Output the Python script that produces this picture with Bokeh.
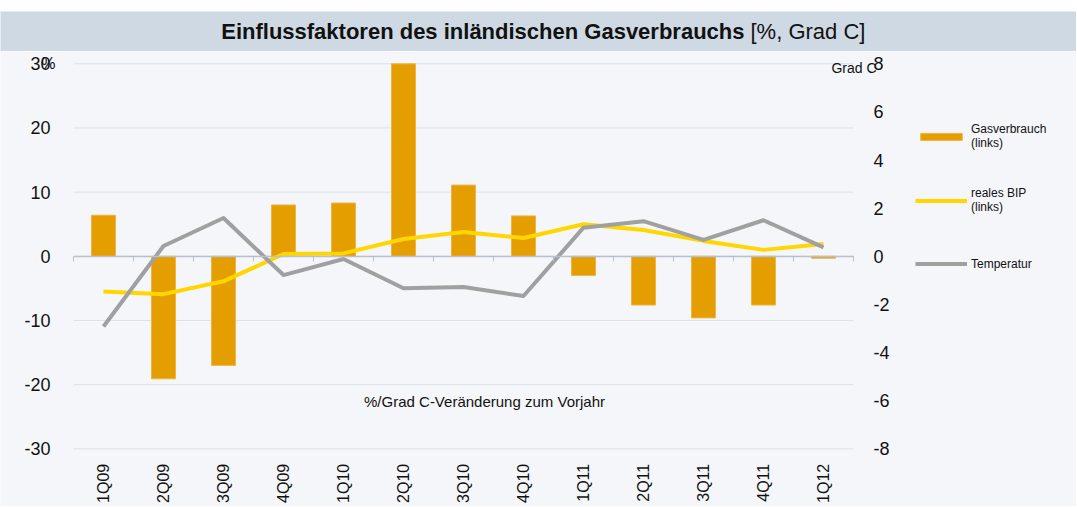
import math
from bokeh.plotting import figure
from bokeh.models import (Range1d, LinearAxis, FixedTicker, Label, Legend,
                          LegendItem, ColumnDataSource)
from bokeh.layouts import column
from bokeh.embed import file_html
from bokeh.resources import INLINE

# ---------------- data ----------------
quarters = ["1Q09", "2Q09", "3Q09", "4Q09", "1Q10", "2Q10", "3Q10",
            "4Q10", "1Q11", "2Q11", "3Q11", "4Q11", "1Q12"]
gasverbrauch = [6.4, -19.1, -17.0, 8.0, 8.3, 30.0, 11.1, 6.3, -3.0, -7.6, -9.6, -7.6, -0.3]
reales_bip = [-5.5, -5.9, -3.9, 0.35, 0.45, 2.7, 3.8, 2.85, 5.0, 4.1, 2.4, 1.0, 1.9]
temperatur = [-2.92, 0.43, 1.59, -0.78, -0.11, -1.33, -1.28, -1.65, 1.19, 1.46, 0.68, 1.5, 0.37]
left_ticks = [-30, -20, -10, 0, 10, 20, 30]
right_ticks = [-8, -6, -4, -2, 0, 2, 4, 6, 8]

FONT = "Liberation Sans"
BG = "#F5F6FA"
BAND = "#CFD9E4"
ORANGE = "#E59E00"
YELLOW = "#FFD600"
GREY = "#A0A0A0"
AXIS_GREY = "#B9BFCB"
GRID = "#DCE0E7"
TXT = "#111111"

n = len(quarters)
centers = [i + 0.5 for i in range(n)]
bounds = list(range(n + 1))
src = ColumnDataSource(dict(x=centers, q=quarters, gas=gasverbrauch, bip=reales_bip, temp=temperatur))
grid_src = ColumnDataSource(dict(x0=[0] * len(left_ticks), x1=[n] * len(left_ticks), y=left_ticks))

# ---------------- layout constants (pixels) ----------------
W = 1076
H_TITLE = 51
H_MAIN = 455
PLOT_L, PLOT_R = 73, 853        # data area inside the main canvas
PLOT_T, PLOT_B = 12.3, 397.3

lmin, lmax = left_ticks[0], left_ticks[-1]
rmin, rmax = right_ticks[0], right_ticks[-1]
pxx = (PLOT_R - PLOT_L) / n
pyl = (PLOT_B - PLOT_T) / (lmax - lmin)
pyr = (PLOT_B - PLOT_T) / (rmax - rmin)
x_range = Range1d(-PLOT_L / pxx, n + (W - PLOT_R) / pxx)
y_range = Range1d(lmin - (H_MAIN - PLOT_B) / pyl, lmax + PLOT_T / pyl)
t_range = Range1d(rmin - (H_MAIN - PLOT_B) / pyr, rmax + PLOT_T / pyr)

# ---------------- title band ----------------
t = figure(width=W, height=H_TITLE, x_range=Range1d(0, W), y_range=Range1d(0, 40),
           toolbar_location=None, output_backend="svg",
           x_axis_location=None, y_axis_location=None,
           min_border_left=0, min_border_right=0, min_border_bottom=0, min_border_top=11,
           background_fill_color=BAND, border_fill_color="white", outline_line_color=None)
t.frame_align = False
t.grid.visible = False
t.add_layout(Label(x=744, y=20, text="Einflussfaktoren des inländischen Gasverbrauchs",
                   text_font=FONT, text_font_size="22px", text_font_style="bold",
                   text_align="right", text_baseline="middle", text_color=TXT))
t.add_layout(Label(x=750, y=20, text="[%, Grad C]",
                   text_font=FONT, text_font_size="22px", text_font_style="normal",
                   text_align="left", text_baseline="middle", text_color=TXT))

# ---------------- main chart ----------------
p = figure(width=W, height=H_MAIN, x_range=x_range, y_range=y_range,
           toolbar_location=None, output_backend="svg",
           x_axis_location=None, y_axis_location=None,
           min_border_left=0, min_border_right=0, min_border_top=0, min_border_bottom=0,
           background_fill_color=BG, border_fill_color=BG, outline_line_color=None)
p.frame_align = False
p.extra_y_ranges = {"temp": t_range}
p.grid.visible = False

# horizontal gridlines at the left-axis ticks, limited to the plot area
p.segment(x0="x0", y0="y", x1="x1", y1="y", source=grid_src,
          line_color=GRID, line_width=1, level="underlay")


def style_axis(ax, size, standoff):
    ax.axis_line_color = None
    ax.major_tick_line_color = None
    ax.minor_tick_line_color = None
    ax.major_label_standoff = standoff
    ax.major_label_text_font = FONT
    ax.major_label_text_font_size = size
    ax.major_label_text_color = TXT


xa = LinearAxis(fixed_location=lmin, ticker=FixedTicker(ticks=centers))
xa.major_label_overrides = {c: q for c, q in zip(centers, quarters)}
xa.major_label_orientation = math.pi / 2
style_axis(xa, "16px", 9)
p.add_layout(xa, "below")

ya = LinearAxis(fixed_location=0, ticker=FixedTicker(ticks=left_ticks))
ya.major_label_overrides = {v: str(v) for v in left_ticks}
style_axis(ya, "18px", 17)
p.add_layout(ya, "left")

ra = LinearAxis(fixed_location=n, y_range_name="temp", ticker=FixedTicker(ticks=right_ticks))
ra.major_label_overrides = {v: str(v) for v in right_ticks}
style_axis(ra, "18px", 14)
p.add_layout(ra, "right")

bars = p.vbar(x="x", top="gas", bottom=0, width=0.4, source=src,
              fill_color=ORANGE, line_color="#EDB548", line_width=1)

# category axis drawn at the zero line (ticks between quarters)
za = LinearAxis(fixed_location=0, ticker=FixedTicker(ticks=bounds), bounds=(0, n))
za.major_label_overrides = {b: "" for b in bounds}
za.axis_line_color = AXIS_GREY
za.axis_line_width = 1.5
za.major_tick_line_color = AXIS_GREY
za.major_tick_out = 5
za.major_tick_in = 0
za.minor_tick_line_color = None
p.add_layout(za, "below")

bip_r = p.line(x="x", y="bip", source=src, line_color=YELLOW, line_width=4, line_join="round")
temp_r = p.line(x="x", y="temp", source=src, y_range_name="temp",
                line_color=GREY, line_width=4, line_join="round")

p.add_layout(Label(x=-0.42, y=lmax, text="%", text_font=FONT, text_font_size="16px",
                   text_align="center", text_baseline="middle", text_color=TXT))
p.add_layout(Label(x=12.633, y=29.42, text="Grad C", text_font=FONT, text_font_size="14px",
                   text_align="left", text_baseline="middle", text_color=TXT))
p.add_layout(Label(x=6.85, y=-22.7, text="%/Grad C-Veränderung zum Vorjahr",
                   text_font=FONT, text_font_size="15px",
                   text_align="center", text_baseline="middle", text_color=TXT))

legend = Legend(items=[
    LegendItem(label="Gasverbrauch\n(links)", renderers=[bars]),
    LegendItem(label="reales BIP\n(links)", renderers=[bip_r]),
    LegendItem(label="Temperatur", renderers=[temp_r]),
], location=(915, 229), orientation="vertical",
    glyph_width=52, glyph_height=9, label_standoff=4, spacing=36, label_height=27,
    label_text_font=FONT, label_text_font_size="12px", label_text_color=TXT,
    padding=0, margin=0, background_fill_alpha=0, border_line_alpha=0)
p.add_layout(legend, "center")

layout = column(t, p, spacing=0)
open("out.html", "w").write(file_html(layout, INLINE))
